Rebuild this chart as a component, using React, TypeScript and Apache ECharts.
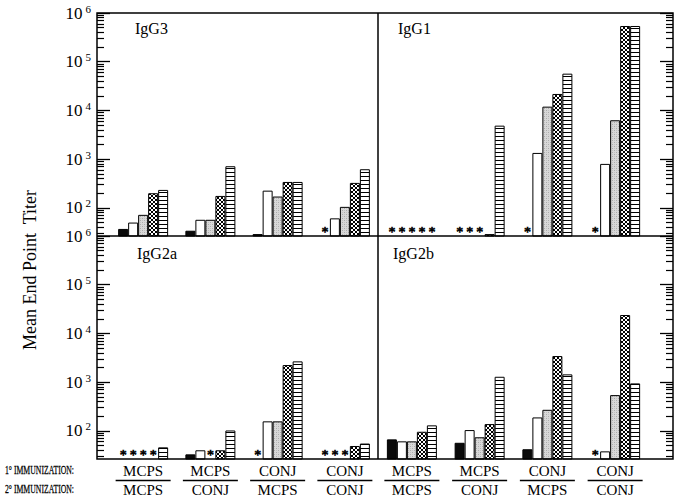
import { useEffect, useRef } from 'react';
import * as echarts from 'echarts';

const FONT = "'Liberation Serif', 'Times New Roman', 'DejaVu Serif', serif";

// Groups (x categories): primary / secondary immunization
const primaryImmunization = ['MCPS', 'MCPS', 'CONJ', 'CONJ'];
const secondaryImmunization = ['MCPS', 'CONJ', 'MCPS', 'CONJ'];
const categories = primaryImmunization.map((p, i) => `${p}/${secondaryImmunization[i]}`);

const panelTitles = ['IgG3', 'IgG1', 'IgG2a', 'IgG2b'];
const barKinds = ['solid', 'open', 'stippled', 'hatched', 'striped'];

// Mean end point titers; null = not detected (shown as *)
const igG3Solid = [37, 34, 29, null];
const igG3Open = [50, 57, 226, 61];
const igG3Stippled = [72, 57, 171, 105];
const igG3Hatched = [200, 176, 341, 326];
const igG3Striped = [234, 716, 341, 622];

const igG1Solid = [null, null, null, null];
const igG1Open = [null, null, 1343, 800];
const igG1Stippled = [null, null, 11970, 6290];
const igG1Hatched = [null, 29, 21800, 541000];
const igG1Striped = [null, 4876, 56900, 541000];

const igG2aSolid = [null, 33, null, null];
const igG2aOpen = [null, 40, 157, null];
const igG2aStippled = [null, null, 157, null];
const igG2aHatched = [null, 40, 2244, 49];
const igG2aStriped = [46, 102, 2674, 55];

const igG2bSolid = [67, 57, 42, null];
const igG2bOpen = [61, 104, 189, 38];
const igG2bStippled = [61, 74, 271, 543];
const igG2bHatched = [96, 138, 3436, 23900];
const igG2bStriped = [130, 1291, 1446, 944];

const panelSeries = [
  [igG3Solid, igG3Open, igG3Stippled, igG3Hatched, igG3Striped],
  [igG1Solid, igG1Open, igG1Stippled, igG1Hatched, igG1Striped],
  [igG2aSolid, igG2aOpen, igG2aStippled, igG2aHatched, igG2aStriped],
  [igG2bSolid, igG2bOpen, igG2bStippled, igG2bHatched, igG2bStriped],
];

// Axis
const Y_MIN = 26.5;
const Y_MAX = 1000000;
const ASTERISK_LEVEL = 27;
const majorTickValues = [100, 1000, 10000, 100000, 1000000];
const minorMultipliers = [2, 3, 4, 5, 6, 7, 8, 9];
const minorDecades = [10, 100, 1000, 10000, 100000];
const minorTickValues = minorDecades.flatMap((d) => minorMultipliers.map((m) => m * d));

function makePattern(kind: string): any {
  const c = document.createElement('canvas');
  c.width = 4;
  c.height = 4;
  const ctx = c.getContext('2d')!;
  ctx.fillStyle = '#ffffff';
  ctx.fillRect(0, 0, 4, 4);
  if (kind === 'stippled') {
    ctx.fillStyle = '#d8d8d8';
    ctx.fillRect(0, 0, 4, 4);
    ctx.fillStyle = '#ababab';
    ctx.fillRect(0, 0, 1, 1);
    ctx.fillRect(2, 2, 1, 1);
    ctx.fillStyle = '#c2c2c2';
    ctx.fillRect(2, 0, 1, 1);
    ctx.fillRect(0, 2, 1, 1);
  } else if (kind === 'hatched') {
    ctx.fillStyle = '#000000';
    [[0, 0], [1, 1], [2, 2], [3, 3], [3, 0], [2, 1], [1, 2], [0, 3]].forEach(([x, y]) =>
      ctx.fillRect(x, y, 1, 1)
    );
  } else if (kind === 'striped') {
    ctx.fillStyle = '#000000';
    ctx.fillRect(0, 0, 4, 1);
  }
  return { image: c, repeat: 'repeat', imageWidth: 4, imageHeight: 4 };
}

const gridBoxes = [
  { left: 109.5, top: 13, width: 269, height: 223 },
  { left: 378, top: 13, width: 271, height: 223 },
  { left: 109.5, top: 236, width: 269, height: 223 },
  { left: 378, top: 236, width: 271, height: 223 },
];
const axisSide = ['left', 'right', 'left', 'right'];
const axisOffset = [12.5, 24, 12.5, 24];

const asteriskLabel = {
  show: true,
  position: 'top',
  distance: -4,
  formatter: '*',
  fontFamily: FONT,
  fontSize: 14,
  fontWeight: 'normal',
  color: '#000000',
  textBorderColor: '#000000',
  textBorderWidth: 0.6,
  textShadowBlur: 0,
};

export default function App() {
  const ref = useRef<HTMLDivElement>(null);

  useEffect(() => {
    if (!ref.current) return;
    const chart = echarts.init(ref.current, null, { renderer: 'svg' });

    const fills: Record<string, any> = {
      solid: '#0a0a0a',
      open: '#ffffff',
      stippled: makePattern('stippled'),
      hatched: makePattern('hatched'),
      striped: makePattern('striped'),
    };

    const grids = gridBoxes.map((g) => ({ ...g, outerBoundsMode: 'none', containLabel: false }));

    const xAxes = gridBoxes.map((_, i) => ({
      type: 'category',
      gridIndex: i,
      data: categories,
      axisLine: { show: false },
      axisTick: { show: false },
      splitLine: { show: false },
      axisLabel: {
        show: i >= 2,
        interval: 0,
        margin: 3,
        formatter: (_v: string, idx: number) =>
          `{t|${primaryImmunization[idx]}}\n{l| }\n{b|${secondaryImmunization[idx]}}`,
        rich: {
          t: { fontFamily: FONT, fontSize: 15, color: '#000', lineHeight: 17 },
          l: { width: 55, height: 1.3, backgroundColor: '#000', lineHeight: 3, fontSize: 1 },
          b: { fontFamily: FONT, fontSize: 15, color: '#000', lineHeight: 16 },
        },
      },
    }));

    const majorY = gridBoxes.map((_, i) => ({
      type: 'log',
      logBase: 10,
      gridIndex: i,
      min: Y_MIN,
      max: Y_MAX,
      position: axisSide[i],
      offset: axisOffset[i],
      axisLine: { show: false },
      splitLine: { show: false },
      minorTick: { show: false },
      axisTick: {
        show: true,
        inside: true,
        length: 13,
        customValues: majorTickValues,
        lineStyle: { color: '#000', width: 1.3 },
      },
      axisLabel: {
        show: i % 2 === 0,
        customValues: majorTickValues,
        margin: 6,
        formatter: (v: number) => `{b|10}{e|${Math.round(Math.log10(v))}}`,
        rich: {
          b: { fontFamily: FONT, fontSize: 17, color: '#000' },
          e: { fontFamily: FONT, fontSize: 11, color: '#000', padding: [0, 0, 9, 3] },
        },
      },
    }));

    const minorY = gridBoxes.map((_, i) => ({
      type: 'log',
      logBase: 10,
      gridIndex: i,
      min: Y_MIN,
      max: Y_MAX,
      position: axisSide[i],
      offset: axisOffset[i],
      axisLine: { show: false },
      splitLine: { show: false },
      axisLabel: { show: false },
      axisTick: {
        show: true,
        inside: true,
        length: 7,
        customValues: minorTickValues,
        lineStyle: { color: '#000', width: 1.2 },
      },
    }));

    const series: any[] = [];
    panelSeries.forEach((arrs, p) => {
      arrs.forEach((arr, k) => {
        series.push({
          type: 'bar',
          name: `${panelTitles[p]} ${barKinds[k]}`,
          xAxisIndex: p,
          yAxisIndex: p,
          barWidth: 10,
          barGap: 0,
          itemStyle: { color: fills[barKinds[k]], borderColor: '#000', borderWidth: 1 },
          label: { ...asteriskLabel, show: false },
          data: arr.map((v) =>
            v == null
              ? {
                  value: ASTERISK_LEVEL,
                  itemStyle: { color: 'rgba(0,0,0,0)', borderWidth: 0 },
                  label: asteriskLabel,
                }
              : v
          ),
        });
      });
    });

    const titlePos = [
      [135, 28],
      [398, 28],
      [137, 253],
      [393, 253],
    ];

    const immunizationLabel = (text: string, y: number) => ({
      type: 'text',
      x: 5,
      y,
      scaleX: 0.62,
      style: {
        text,
        fontFamily: FONT,
        fontSize: 12.5,
        fill: '#000',
        stroke: '#000',
        lineWidth: 0.25,
        textAlign: 'left',
        textVerticalAlign: 'middle',
      },
    });

    const graphic: any[] = [
      {
        type: 'rect',
        z: 100,
        silent: true,
        shape: { x: 97, y: 13, width: 576, height: 446 },
        style: { fill: 'none', stroke: '#000', lineWidth: 1.5 },
      },
      {
        type: 'line',
        z: 100,
        silent: true,
        shape: { x1: 97, y1: 236, x2: 673, y2: 236 },
        style: { stroke: '#000', lineWidth: 1.5 },
      },
      {
        type: 'line',
        z: 100,
        silent: true,
        shape: { x1: 378, y1: 13, x2: 378, y2: 459 },
        style: { stroke: '#000', lineWidth: 1.5 },
      },
      ...panelTitles.map((t, i) => ({
        type: 'text',
        z: 100,
        x: titlePos[i][0],
        y: titlePos[i][1],
        style: {
          text: t,
          fontFamily: FONT,
          fontSize: 16,
          fill: '#000',
          textAlign: 'left',
          textVerticalAlign: 'middle',
        },
      })),
      {
        type: 'text',
        x: 30,
        y: 270,
        rotation: Math.PI / 2,
        style: {
          text: 'Mean End Point  Titer',
          fontFamily: FONT,
          fontSize: 18,
          fill: '#000',
          textAlign: 'center',
          textVerticalAlign: 'middle',
        },
      },
      immunizationLabel('1° IMMUNIZATION:', 470),
      immunizationLabel('2° IMMUNIZATION:', 489),
    ];

    chart.setOption({
      animation: false,
      backgroundColor: '#fff',
      grid: grids,
      xAxis: xAxes,
      yAxis: [...majorY, ...minorY],
      series,
      graphic,
    });

    return () => chart.dispose();
  }, []);

  return (
    <div
      ref={ref}
      style={{ position: 'absolute', left: 0, top: 0, width: 680, height: 501 }}
    />
  );
}
